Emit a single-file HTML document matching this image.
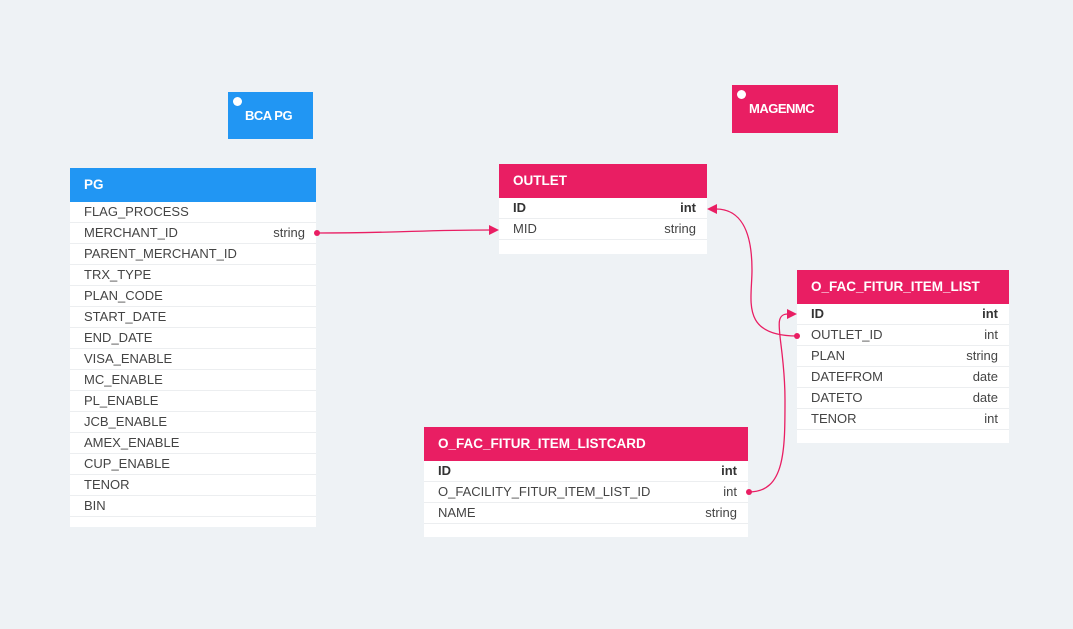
<!DOCTYPE html>
<html><head><style>
body{margin:0;width:1073px;height:629px;background:#eef2f5;position:relative;overflow:hidden;font-family:"Liberation Sans",sans-serif}
.t{position:absolute;background:#fff}
.h{height:34px;color:#fff;font-weight:bold;font-size:13.5px;line-height:34px;padding-left:14px;box-sizing:border-box}
.r{height:21px;line-height:20px;font-size:13px;color:#444;padding:0 11px 0 14px;border-bottom:1px solid #eceef0;box-sizing:border-box;display:flex;justify-content:space-between}
.b{font-weight:bold;color:#333}
.blue{background:#2196f3}.pink{background:#e91e63}
.lab{position:absolute;color:#fff;font-weight:bold;font-size:13px;letter-spacing:-0.5px}
.dot{position:absolute;width:9px;height:9px;border-radius:50%;background:#fff}
</style></head><body>
<div class="lab blue" style="left:228px;top:92px;width:85px;height:47px"><div class="dot" style="left:5px;top:5px"></div><span style="position:absolute;left:17px;top:16px">BCA PG</span></div>
<div class="lab pink" style="left:732px;top:85px;width:106px;height:48px"><div class="dot" style="left:5px;top:5px"></div><span style="position:absolute;left:17px;top:16px">MAGENMC</span></div>

<div class="t" style="left:70px;top:168px;width:246px;height:359px">
<div class="h blue">PG</div>
<div class="r"><span>FLAG_PROCESS</span></div>
<div class="r"><span>MERCHANT_ID</span><span>string</span></div>
<div class="r"><span>PARENT_MERCHANT_ID</span></div>
<div class="r"><span>TRX_TYPE</span></div>
<div class="r"><span>PLAN_CODE</span></div>
<div class="r"><span>START_DATE</span></div>
<div class="r"><span>END_DATE</span></div>
<div class="r"><span>VISA_ENABLE</span></div>
<div class="r"><span>MC_ENABLE</span></div>
<div class="r"><span>PL_ENABLE</span></div>
<div class="r"><span>JCB_ENABLE</span></div>
<div class="r"><span>AMEX_ENABLE</span></div>
<div class="r"><span>CUP_ENABLE</span></div>
<div class="r"><span>TENOR</span></div>
<div class="r"><span>BIN</span></div>
</div>

<div class="t" style="left:499px;top:164px;width:208px;height:90px">
<div class="h pink">OUTLET</div>
<div class="r b"><span>ID</span><span>int</span></div>
<div class="r"><span>MID</span><span>string</span></div>
</div>

<div class="t" style="left:797px;top:270px;width:212px;height:173px">
<div class="h pink">O_FAC_FITUR_ITEM_LIST</div>
<div class="r b"><span>ID</span><span>int</span></div>
<div class="r"><span>OUTLET_ID</span><span>int</span></div>
<div class="r"><span>PLAN</span><span>string</span></div>
<div class="r"><span>DATEFROM</span><span>date</span></div>
<div class="r"><span>DATETO</span><span>date</span></div>
<div class="r"><span>TENOR</span><span>int</span></div>
</div>

<div class="t" style="left:424px;top:427px;width:324px;height:110px">
<div class="h pink">O_FAC_FITUR_ITEM_LISTCARD</div>
<div class="r b"><span>ID</span><span>int</span></div>
<div class="r"><span>O_FACILITY_FITUR_ITEM_LIST_ID</span><span>int</span></div>
<div class="r"><span>NAME</span><span>string</span></div>
</div>

<svg width="1073" height="629" style="position:absolute;left:0;top:0" fill="none">
<g stroke="#e91e63" stroke-width="1.3">
<path d="M317 233 C400 233 420 230 490 230"/>
<path d="M797 336 C740 336 752 300 752 270 C752 230 740 209 716 209"/>
<path d="M749 492 C785 492 785 450 785 400 C785 340 770 314 788 314"/>
</g>
<g fill="#e91e63">
<circle cx="317" cy="233" r="3"/>
<circle cx="797" cy="336" r="3"/>
<circle cx="749" cy="492" r="3"/>
<path d="M499 230 L489 225 L489 235Z"/>
<path d="M707 209 L717 204 L717 214Z"/>
<path d="M797 314 L787 309 L787 319Z"/>
</g>
</svg>
</body></html>
